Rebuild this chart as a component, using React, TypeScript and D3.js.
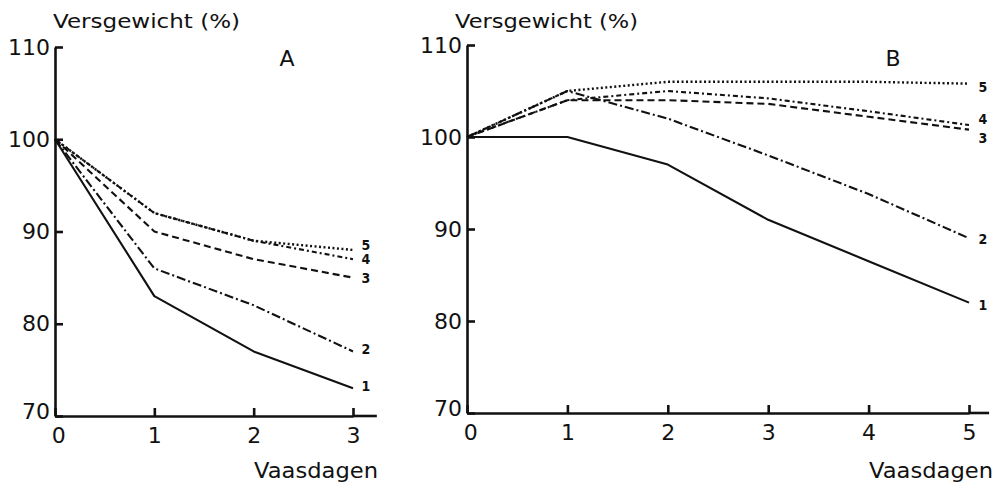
import React, {useEffect, useRef} from 'react'
import * as d3 from 'd3'

// Versgewicht (%) per vaasdag, panel A (3 dagen) en B (5 dagen)
const daysA = [0, 1, 2, 3]
const a1 = [100, 83, 77, 73]
const a2 = [100, 86, 82, 77]
const a3 = [100, 90, 87, 85]
const a4 = [100, 92, 89, 87]
const a5 = [100, 92, 89, 88]

const daysB = [0, 1, 2, 3, 4, 5]
const b1 = [100, 100, 97, 91, 86.5, 82]
const b2 = [100, 105, 102, 98, 93.8, 89]
const b3 = [100, 104, 104, 103.6, 102.2, 100.8]
const b4 = [100, 104, 105, 104.2, 102.8, 101.3]
const b5 = [100, 105, 106, 106, 106, 105.8]

const seriesNames = ['1', '2', '3', '4', '5']
const yTicks = [70, 80, 90, 100, 110]
const xTicksA = [0, 1, 2, 3]
const xTicksB = [0, 1, 2, 3, 4, 5]
const yTitle = 'Versgewicht (%)'
const xTitle = 'Vaasdagen'

const font = 'DejaVu Sans, sans-serif'
const dashes = [null, '9,3,2,3', '7,4', '5,3,2,3', '2,2.5']

function drawPanel(svg, o) {
    const x = d3.scaleLinear().domain([0, o.days[o.days.length - 1]]).range(o.xRange)
    const y = d3.scaleLinear().domain([70, 110]).range(o.yRange)
    const g = svg.append('g')

    // y axis
    const ya = g.append('g')
        .attr('transform', 'translate(' + x(0) + ',0)')
        .call(d3.axisLeft(y).tickValues(yTicks).tickFormat(d3.format('d'))
            .tickSize(-8).tickSizeOuter(0).tickPadding(5))
    ya.attr('font-family', font).attr('font-size', 22)
    ya.selectAll('path, line').attr('stroke', '#111').attr('stroke-width', 2.6)
    ya.selectAll('text').attr('fill', '#111')
    ya.selectAll('text').filter(d => d === 70).attr('dy', '0.1em')

    // x axis
    const xa = g.append('g')
        .attr('transform', 'translate(0,' + y(70) + ')')
        .call(d3.axisBottom(x).tickValues(o.xTicks).tickFormat(d3.format('d'))
            .tickSize(-8).tickSizeOuter(0).tickPadding(11))
    xa.attr('font-family', font).attr('font-size', 22)
    xa.selectAll('path, line').attr('stroke', '#111').attr('stroke-width', 2.6)
    xa.selectAll('text').attr('fill', '#111')
    xa.selectAll('text').filter(d => d === 0).attr('dx', '0.15em')
    xa.append('line')
        .attr('x1', x(o.days[o.days.length - 1]))
        .attr('x2', x(o.xEnd))
        .attr('stroke', '#111')
        .attr('stroke-width', 2.6)

    const line = d3.line()
        .x((d, i) => x(o.days[i]))
        .y(d => y(d))

    o.series.forEach((s, i) => {
        g.append('path')
            .attr('d', line(s))
            .attr('fill', 'none')
            .attr('stroke', '#111')
            .attr('stroke-width', i === 4 ? 2.4 : 2.1)
            .attr('stroke-dasharray', dashes[i])
            .attr('stroke-linejoin', 'round')
    })

    // serie nummers
    o.series.forEach((s, i) => {
        g.append('text')
            .attr('x', x(o.days[o.days.length - 1]) + o.labelDx)
            .attr('y', y(s[s.length - 1]) + o.labelDy[i])
            .attr('dy', '0.36em')
            .attr('text-anchor', 'middle')
            .attr('font-family', 'DejaVu Sans Condensed, DejaVu Sans, sans-serif')
            .attr('font-weight', 'bold')
            .attr('font-size', 14)
            .attr('fill', '#111')
            .text(seriesNames[i])
    })

    g.append('text')
        .attr('x', o.titleX)
        .attr('y', 28)
        .attr('font-family', font)
        .attr('font-size', 20)
        .attr('textLength', o.titleW)
        .attr('lengthAdjust', 'spacingAndGlyphs')
        .attr('fill', '#111')
        .text(yTitle)

    g.append('text')
        .attr('x', o.xTitleRight)
        .attr('y', 478)
        .attr('text-anchor', 'end')
        .attr('font-family', font)
        .attr('font-size', 22)
        .attr('textLength', 124)
        .attr('lengthAdjust', 'spacingAndGlyphs')
        .attr('fill', '#111')
        .text(xTitle)

    g.append('text')
        .attr('x', o.letterX)
        .attr('y', 58)
        .attr('dy', '0.36em')
        .attr('text-anchor', 'middle')
        .attr('font-family', font)
        .attr('font-size', 22)
        .attr('fill', '#111')
        .text(o.letter)
}

function App() {
    const ref = useRef(null)

    useEffect(() => {
        const svg = d3.select(ref.current)
        svg.selectAll('*').remove()

        drawPanel(svg, {
            days: daysA,
            series: [a1, a2, a3, a4, a5],
            xTicks: xTicksA,
            xRange: [55, 353],
            yRange: [416, 47],
            xEnd: 3.24,
            labelDx: 13,
            labelDy: [-2, -2, 0, 0, -5],
            titleX: 53,
            titleW: 187,
            xTitleRight: 378,
            letter: 'A',
            letterX: 287
        })

        drawPanel(svg, {
            days: daysB,
            series: [b1, b2, b3, b4, b5],
            xTicks: xTicksB,
            xRange: [467, 969],
            yRange: [413, 45],
            xEnd: 5.2,
            labelDx: 14,
            labelDy: [2, 1, 8, -6, 3],
            titleX: 455,
            titleW: 183,
            xTitleRight: 993,
            letter: 'B',
            letterX: 893
        })
    }, [])

    return (
        <svg ref={ref} width={1001} height={484}
            style={{position: 'absolute', left: 0, top: 0, background: '#fff'}} />
    )
}

export default App
